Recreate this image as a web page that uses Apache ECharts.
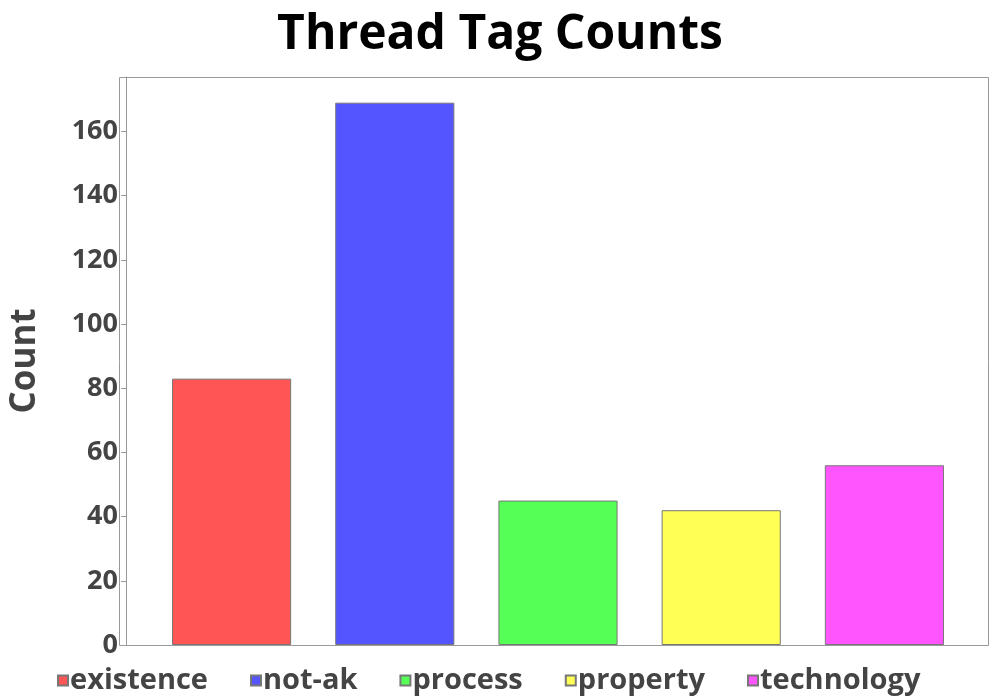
<!DOCTYPE html>
<html>
<head>
<meta charset="utf-8">
<script src="https://cdn.jsdelivr.net/npm/echarts@6/dist/echarts.min.js"></script>
<style>html,body{margin:0;padding:0;background:#fff}#main{width:1000px;height:700px}</style>
</head>
<body>
<div id="main"></div>
<script>
let tags = ['existence', 'not-ak', 'process', 'property', 'technology'];
let counts = [83, 169, 45, 42, 56];
let colors = ['#ff5555', '#5555ff', '#55ff55', '#ffff55', '#ff55ff'];
let yTicks = [0, 20, 40, 60, 80, 100, 120, 140, 160];

let chart = echarts.init(document.getElementById('main'));

// one series per tag so the legend shows each one
let series = [];
for (let i = 0; i < tags.length; i++) {
    let data = tags.map((t, j) => j === i ? counts[i] : '-');
    series.push({
        name: tags[i],
        type: 'bar',
        stack: 'all',
        barWidth: '73%',
        data: data,
        itemStyle: {color: colors[i], borderColor: '#777', borderWidth: 1}
    });
}

let option = {
    textStyle: {fontFamily: 'Open Sans'},
    title: {
        text: 'Thread Tag Counts', left: 'center', top: 6,
        textStyle: {fontSize: 48, fontWeight: 'bold', color: '#000', fontFamily: 'Open Sans'}
    },
    legend: {
        data: tags, bottom: 0, left: 52, itemGap: 42,
        itemWidth: 10, itemHeight: 10, icon: 'rect',
        textStyle: {fontSize: 29, fontWeight: 'bold', color: '#444', fontFamily: 'Open Sans', padding: [0, 0, 0, -3]}
    },
    // plot frame is wider than the category band
    graphic: [{
        type: 'rect', silent: true,
        shape: {x: 119.5, y: 77.5, width: 869, height: 568},
        style: {fill: 'none', stroke: '#999', lineWidth: 1}
    }],
    grid: {left: 143, right: 34, top: 77, bottom: 55},
    xAxis: {
        type: 'category', data: tags,
        axisLabel: {show: false}, axisTick: {show: false},
        axisLine: {show: false}
    },
    yAxis: {
        type: 'value', min: 0, max: 177, interval: 20, offset: 24,
        name: 'Count', nameLocation: 'middle', nameGap: 83,
        nameTextStyle: {fontSize: 35, fontWeight: 'bold', color: '#444', fontFamily: 'Open Sans'},
        axisLabel: {
            fontSize: 27, fontWeight: 'bold', color: '#444', fontFamily: 'Open Sans',
            formatter: v => yTicks.indexOf(v) >= 0 ? v : ''
        },
        axisLine: {show: true, lineStyle: {color: '#999'}},
        axisTick: {show: true, length: 5, lineStyle: {color: '#999'}},
        splitLine: {show: false}
    },
    series: series
};

chart.setOption(option);
</script>
</body>
</html>
